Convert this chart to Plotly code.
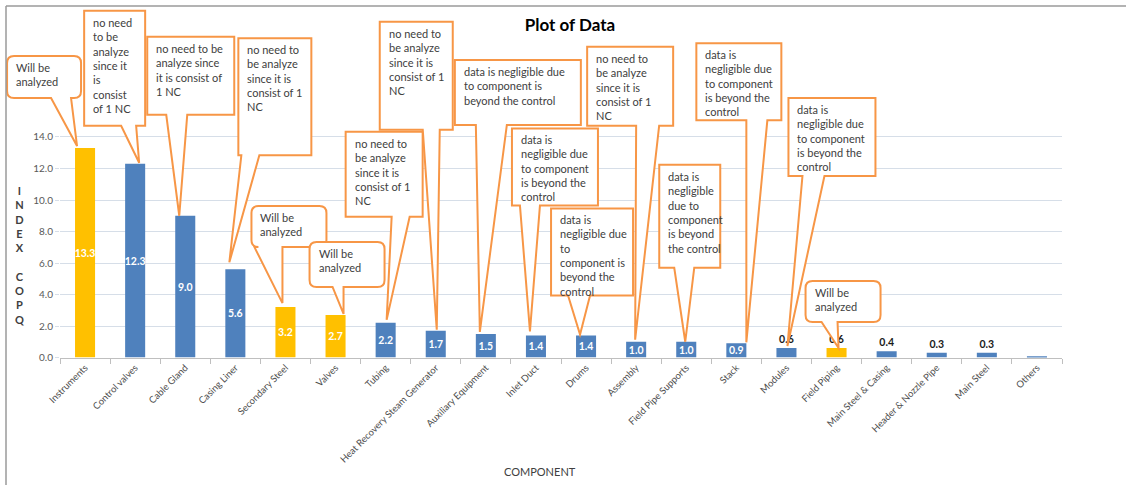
import plotly.graph_objects as go

# ---------------- data ----------------
categories = [
    "Instruments", "Control valves", "Cable Gland", "Casing Liner", "Secondary Steel",
    "Valves", "Tubing", "Heat Recovery Steam Generator", "Auxiliary Equipment", "Inlet Duct",
    "Drums", "Assembly", "Field Pipe Supports", "Stack", "Modules", "Field Piping",
    "Main Steel & Casing", "Header & Nozzle Pipe", "Main Steel", "Others",
]
copq_index = [13.3, 12.3, 9.0, 5.6, 3.2, 2.7, 2.2, 1.7, 1.5, 1.4,
              1.4, 1.0, 1.0, 0.9, 0.6, 0.6, 0.4, 0.3, 0.3, 0.05]
to_analyze = ["Instruments", "Secondary Steel", "Valves", "Field Piping"]
y_ticks = [0, 2, 4, 6, 8, 10, 12, 14]

NOTE_ANALYZE = "Will be<br>analyzed"
NOTE_ONE_NC = "no need to<br>be analyze<br>since it is<br>consist of 1<br>NC"
NOTE_NEGLIGIBLE = "data is<br>negligible due<br>to component<br>is beyond the<br>control"

# callout notes: category, text, rounded corners
notes = [
    ("Instruments", NOTE_ANALYZE, True),
    ("Control valves", "no need<br>to be<br>analyze<br>since it<br>is<br>consist<br>of 1 NC", False),
    ("Cable Gland", "no need to be<br>analyze since<br>it is consist of<br>1 NC", False),
    ("Casing Liner", NOTE_ONE_NC, False),
    ("Secondary Steel", NOTE_ANALYZE, True),
    ("Valves", NOTE_ANALYZE, True),
    ("Tubing", NOTE_ONE_NC, False),
    ("Heat Recovery Steam Generator", NOTE_ONE_NC, False),
    ("Auxiliary Equipment", "data is negligible due<br>to component is<br>beyond the control", False),
    ("Inlet Duct", NOTE_NEGLIGIBLE, False),
    ("Drums", "data is<br>negligible due<br>to<br>component is<br>beyond the<br>control", False),
    ("Assembly", NOTE_ONE_NC, False),
    ("Field Pipe Supports", "data is<br>negligible<br>due to<br>component<br>is beyond<br>the control", False),
    ("Stack", NOTE_NEGLIGIBLE, False),
    ("Modules", NOTE_NEGLIGIBLE, False),
    ("Field Piping", NOTE_ANALYZE, True),
]

# ---------------- layout geometry (pixels) ----------------
FIG_W, FIG_H = 1126, 485
PLOT_LEFT, PLOT_RIGHT = 60, 1062
ZERO_PX = 357.5          # distance of the value axis zero from the top
UNIT_PX = 15.75          # pixels per index unit
Y_MAX = 14.3

# bubble placement relative to the top-centre of its bar, in pixels (y up):
# box left, right, top, bottom; tail base x1, x2; tail tip dx, dy
bubble_place = [
    (-78, -4, 92, 50, -34, -14, -8, 2),
    (-51, 10, 153, 38, -14, 1, 4, 1),
    (-38, 49, 179, 101, -19, 2, -6, 0),
    (3, 76, 231, 114, 6, 24, -6, 7),
    (-34, 41, 101, 60, -31, -3, -3, 4),
    (-26, 49, 73, 28, -3, 8, 8, 1),
    (-40, 37, 191, 106, 6, 24, 1, 3),
    (-56, 17, 309, 201, -13, 4, 1, 1),
    (-31, 95, 274, 209, -10, 21, -6, 2),
    (-24, 62, 207, 130, -16, 4, -6, 4),
    (-35, 47, 127, 40, -18, 4, -6, 1),
    (-49, 37, 295, 216, 0, 23, -1, 2),
    (-27, 34, 177, 74, -12, 8, -1, 0),
    (-40, 45, 300, 223, 10, 31, 10, 1),
    (2, 89, 250, 172, 16, 38, 1, 2),
    (-31, 44, 67, 26, -15, 1, 2, 0),
]

BLUE = "#4F81BD"
GOLD = "#FFC000"
ORANGE = "#F79646"
TEXT = "#404040"
FONT = "Lato"

n = len(categories)
cat_px = (PLOT_RIGHT - PLOT_LEFT) / n

bar_colors = [GOLD if c in to_analyze else BLUE for c in categories]
labels = [f"{v:.1f}" if v >= 0.1 else "" for v in copq_index]
label_pos = ["inside" if v >= 0.85 else "outside" for v in copq_index]
label_col = ["white" if v >= 0.85 else "#1A1A1A" for v in copq_index]

fig = go.Figure()
fig.add_trace(go.Bar(
    x=categories, y=copq_index, width=0.4,
    marker=dict(color=bar_colors, line=dict(width=0)),
    text=labels, textposition=label_pos, insidetextanchor="middle",
    textangle=0, constraintext="none", cliponaxis=False,
    textfont=dict(family=FONT, size=10.5, color=label_col, weight="bold"),
    hoverinfo="skip", showlegend=False,
))


def bubble_path(l, r, top, bot, b1, b2, tx, ty, rounded):
    if not rounded:
        return (f"M{l},{top} L{r},{top} L{r},{bot} L{b2},{bot} L{tx},{ty} "
                f"L{b1},{bot} L{l},{bot} Z")
    k = 7
    return (f"M{l + k},{top} L{r - k},{top} Q{r},{top} {r},{top - k} "
            f"L{r},{bot + k} Q{r},{bot} {r - k},{bot} L{b2},{bot} L{tx},{ty} "
            f"L{b1},{bot} L{l + k},{bot} Q{l},{bot} {l},{bot + k} "
            f"L{l},{top - k} Q{l},{top} {l + k},{top} Z")


shapes = []
annotations = []
for (cat, txt, rounded), place in zip(notes, bubble_place):
    i = categories.index(cat)
    v = copq_index[i]
    l, r, top, bot, b1, b2, tx, ty = place
    shapes.append(dict(
        type="path", xref="x2", yref="y2", xsizemode="pixel", ysizemode="pixel",
        xanchor=i, yanchor=v,
        path=bubble_path(l, r, top, bot, b1, b2, tx, ty, rounded),
        fillcolor="white", line=dict(color=ORANGE, width=2), layer="above",
    ))
    annotations.append(dict(
        xref="x2", yref="y2", x=i, y=v, xanchor="left", yanchor="top",
        xshift=l + 7, yshift=top - 3, text=txt, align="left", showarrow=False,
        font=dict(family=FONT, size=11, color=TEXT),
    ))

# outer frame lines
shapes.append(dict(type="line", xref="paper", yref="paper",
                   x0=6 / FIG_W, x1=1, y0=1 - 6 / FIG_H, y1=1 - 6 / FIG_H,
                   line=dict(color="#9A9A9A", width=1.5)))
shapes.append(dict(type="line", xref="paper", yref="paper",
                   x0=6 / FIG_W, x1=6 / FIG_W, y0=0, y1=1 - 6 / FIG_H,
                   line=dict(color="#9A9A9A", width=1.5)))

# axis titles
annotations.append(dict(
    xref="paper", yref="paper", x=19 / FIG_W, y=1 - 255 / FIG_H,
    text="I<br>N<br>D<br>E<br>X<br><br>C<br>O<br>P<br>Q", showarrow=False,
    xanchor="center", yanchor="middle", align="center",
    font=dict(family=FONT, size=11, color=TEXT, weight="bold"),
))
annotations.append(dict(
    xref="paper", yref="paper", x=540 / FIG_W, y=1 - 471 / FIG_H,
    text="COMPONENT", showarrow=False, xanchor="center", yanchor="middle",
    font=dict(family=FONT, size=11, color=TEXT),
))

y_bottom = (FIG_H - ZERO_PX) / FIG_H
fig.update_layout(
    width=FIG_W, height=FIG_H,
    margin=dict(l=0, r=0, t=0, b=0, autoexpand=False),
    paper_bgcolor="white", plot_bgcolor="rgba(0,0,0,0)",
    template="none",
    title=dict(text="<b>Plot of Data</b>", x=570 / FIG_W, y=1 - 25 / FIG_H,
               xref="container", yref="container", xanchor="center", yanchor="middle",
               font=dict(family=FONT, size=17, color="black")),
    xaxis=dict(
        type="category", domain=[PLOT_LEFT / FIG_W, PLOT_RIGHT / FIG_W],
        range=[-0.5, n - 0.5], anchor="y",
        tickson="boundaries", ticks="outside", ticklen=5, tickcolor="#BFBFBF",
        showline=True, linecolor="#BFBFBF", linewidth=1, showgrid=False,
        tickangle=-45, tickfont=dict(family=FONT, size=9.5, color="#4D4D4D"),
        automargin=False, fixedrange=True,
    ),
    yaxis=dict(
        domain=[y_bottom, y_bottom + Y_MAX * UNIT_PX / FIG_H],
        range=[0, Y_MAX], anchor="x",
        tickvals=y_ticks, tickformat=".1f", ticks="outside", ticklen=4,
        tickcolor="#D6DEE8", showgrid=True, gridcolor="#D6DEE8", gridwidth=1,
        zeroline=False, showline=False,
        tickfont=dict(family=FONT, size=10, color="#595959"),
        automargin=False, fixedrange=True,
    ),
    xaxis2=dict(
        domain=[0, 1], anchor="y2", visible=False, fixedrange=True,
        range=[-0.5 - PLOT_LEFT / cat_px, n - 0.5 + (FIG_W - PLOT_RIGHT) / cat_px],
    ),
    yaxis2=dict(
        domain=[0, 1], anchor="x2", visible=False, fixedrange=True,
        range=[-(FIG_H - ZERO_PX) / UNIT_PX, ZERO_PX / UNIT_PX],
    ),
    shapes=shapes,
    annotations=annotations,
)

fig.write_html("out.html")
